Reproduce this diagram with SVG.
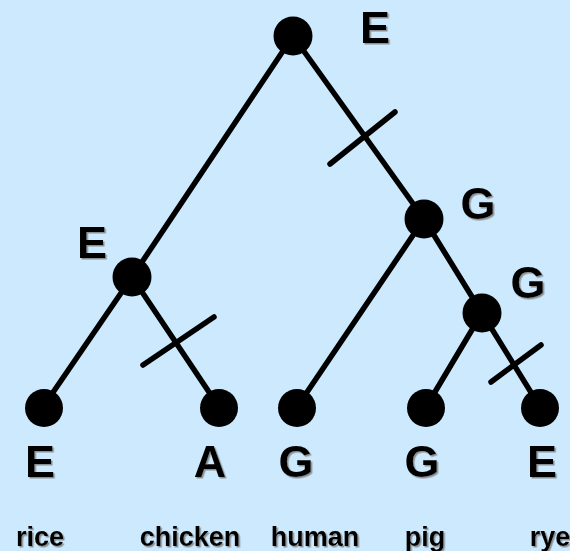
<svg xmlns="http://www.w3.org/2000/svg" width="570" height="551" viewBox="0 0 570 551">
<defs>
<filter id="sh" x="-20%" y="-20%" width="140%" height="140%">
<feDropShadow dx="1.5" dy="1.5" stdDeviation="0.6" flood-color="#777" flood-opacity="0.8"/>
</filter>
<style>
.n{fill:#000}
.e{stroke:#000;stroke-width:5.5;stroke-linecap:round;fill:none}
.s{font-family:"Liberation Sans",Arial,sans-serif;font-weight:bold;font-size:45px;fill:#000;text-anchor:middle;filter:url(#sh)}
.t{font-family:"Liberation Sans",Arial,sans-serif;font-weight:bold;font-size:27px;fill:#000;text-anchor:middle;filter:url(#sh)}
</style>
</defs>
<rect width="570" height="551" fill="#cce9fd"/>
<g id="connectors">
<line class="e" x1="293" y1="36" x2="132" y2="277"/>
<line class="e" x1="293" y1="36" x2="424" y2="219"/>
<line class="e" x1="132" y1="277" x2="43" y2="407"/>
<line class="e" x1="132" y1="277" x2="219" y2="407"/>
<line class="e" x1="424" y1="219" x2="297" y2="407"/>
<line class="e" x1="424" y1="219" x2="482" y2="313"/>
<line class="e" x1="482" y1="313" x2="426" y2="407"/>
<line class="e" x1="482" y1="313" x2="540" y2="407"/>
<line class="e" x1="330" y1="164" x2="395" y2="112"/>
<line class="e" x1="143" y1="365" x2="214" y2="317"/>
<line class="e" x1="491" y1="382" x2="541" y2="345"/>
</g>
<g id="root"><circle class="n" cx="293" cy="36" r="19.5"/><text class="s" x="375" y="43">E</text></g>
<g id="nodeE"><circle class="n" cx="132" cy="277" r="19.5"/><text class="s" x="92" y="258">E</text></g>
<g id="nodeG1"><circle class="n" cx="424" cy="219" r="19.5"/><text class="s" x="478" y="219">G</text></g>
<g id="nodeG2"><circle class="n" cx="482" cy="313" r="19.5"/><text class="s" x="528" y="298">G</text></g>
<g id="rice"><circle class="n" cx="44" cy="408" r="19"/><text class="s" x="40" y="477">E</text><text class="t" x="40" y="546">rice</text></g>
<g id="chicken"><circle class="n" cx="219" cy="408" r="19"/><text class="s" x="210" y="477">A</text><text class="t" x="190" y="546">chicken</text></g>
<g id="human"><circle class="n" cx="297" cy="408" r="19"/><text class="s" x="296" y="477">G</text><text class="t" x="315" y="546">human</text></g>
<g id="pig"><circle class="n" cx="426" cy="408" r="19"/><text class="s" x="422" y="477">G</text><text class="t" x="425" y="546">pig</text></g>
<g id="rye"><circle class="n" cx="540" cy="408" r="19"/><text class="s" x="542" y="477">E</text><text class="t" x="550" y="546">rye</text></g>
</svg>
